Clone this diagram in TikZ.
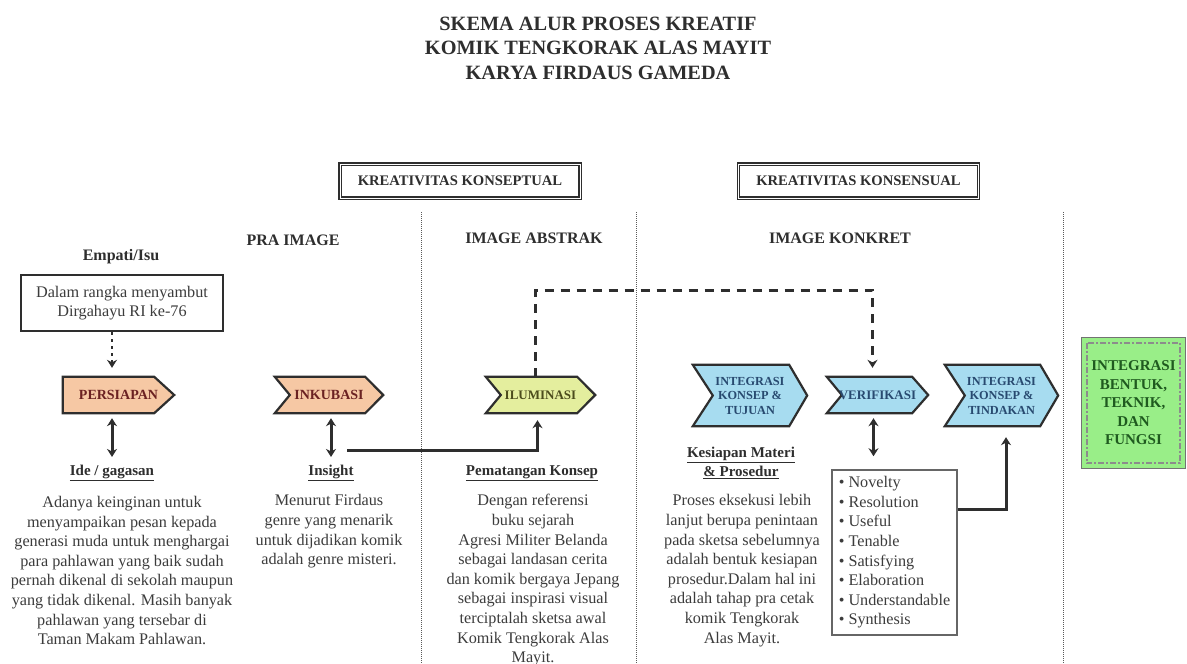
\documentclass[tikz,border=0pt]{standalone}
\usepackage{fontspec}
\setmainfont{Liberation Serif}
\usetikzlibrary{arrows.meta,backgrounds,calc}
\definecolor{peach}{HTML}{F6C8A4}
\definecolor{peachtxt}{HTML}{6B2222}
\definecolor{ilum}{HTML}{E4EE9E}
\definecolor{ilumtxt}{HTML}{4C4C1C}
\definecolor{sky}{HTML}{A7DCF0}
\definecolor{skytxt}{HTML}{284A70}
\definecolor{lgreen}{HTML}{99EE88}
\definecolor{gtxt}{HTML}{1F5A1F}
\definecolor{txt}{HTML}{3C3C3C}
\definecolor{ink}{HTML}{2E2E2E}
\newcommand\chevshape[4]{%
  \begin{pgfonlayer}{background}
  \filldraw[fill=#4, draw=ink, line width=2.2pt, line join=miter]
    (#1.north west) -- ([xshift=-#3pt]#1.north east) -- (#1.east)
    -- ([xshift=-#3pt]#1.south east) -- (#1.south west)
    -- ([xshift=#2pt]#1.west) -- cycle;
  \end{pgfonlayer}}
\begin{document}
\begin{tikzpicture}[x=1pt,y=-1pt,
  titlestyle/.style={font=\bfseries\fontsize{20.3}{24.5}\selectfont, align=center, text=ink, inner sep=0pt},
  kbox/.style={draw=ink, line width=1.1pt, double=white, double distance=1pt, minimum width=240pt, minimum height=34pt, inner sep=0pt, font=\bfseries\fontsize{14.6}{17}\selectfont, text=ink},
  head/.style={font=\bfseries\fontsize{16}{19}\selectfont, text=ink, inner sep=0pt},
  capstyle/.style={font=\bfseries\fontsize{15}{19}\selectfont, text=ink, inner sep=0pt, align=center},
  body/.style={font=\fontsize{16.2}{19.6}\selectfont, text=txt, align=center, inner sep=0pt},
  chev/.style={inner sep=0pt, minimum height=36pt, align=center, font=\bfseries\fontsize{14}{16}\selectfont},
  chevtall/.style={inner sep=0pt, minimum height=61pt, align=center, font=\bfseries\fontsize{12.3}{14.5}\selectfont, text=skytxt},
  dbl/.style={{Stealth[length=8pt,width=10pt]}-{Stealth[length=8pt,width=10pt]}, line width=3pt, draw=ink},
  conn/.style={-{Stealth[length=8pt,width=10pt]}, line width=3pt, draw=ink},
  dotarrow/.style={-{Stealth[length=8pt,width=10pt]}, line width=2.8pt, draw=ink, dash pattern=on 3pt off 4pt},
  dashconn/.style={-{Stealth[length=8pt,width=10pt]}, line width=3pt, draw=ink, dash pattern=on 9pt off 7pt},
  sep/.style={draw=black!65, line width=1pt, dash pattern=on 1pt off 1pt}]
\begin{pgfonlayer}{background}
\fill[white] (0,0) rectangle (1187,664);
\end{pgfonlayer}
\useasboundingbox (0,0) rectangle (1187,664);

% title
\node[titlestyle] (title) at (598,48) {SKEMA ALUR PROSES KREATIF\\KOMIK TENGKORAK ALAS MAYIT\\KARYA FIRDAUS GAMEDA};

% top boxes
\node[kbox] (kk1) at (460,181) {KREATIVITAS KONSEPTUAL};
\node[kbox] (kk2) at (858.5,181) {KREATIVITAS KONSENSUAL};

% separators
\draw[sep] (421,212) -- (421,664);
\draw[sep] (636,212) -- (636,664);
\draw[sep] (1063,212) -- (1063,664);

% headings
\node[head] (pra) at (293,240) {PRA IMAGE};
\node[head] (abs) at (534,238) {IMAGE ABSTRAK};
\node[head] (kon) at (840,238) {IMAGE KONKRET};
\node[head] (empati) at (121,257) {Empati/Isu};

\node[body, draw=ink, line width=2.8pt, minimum width=202pt, minimum height=56pt] (dalam) at (122,303) {Dalam rangka menyambut\\Dirgahayu RI ke-76};

% chevrons
\node[chev, minimum width=111pt, text=peachtxt] (persiapan) at (118.5,395) {PERSIAPAN};
\node[chev, minimum width=108pt, text=peachtxt] (inkubasi) at (329,395) {INKUBASI};
\node[chev, minimum width=109pt, text=ilumtxt, font=\bfseries\fontsize{13}{15}\selectfont] (iluminasi) at (540.5,395) {ILUMINASI};
\node[chevtall, minimum width=114pt] (tujuan) at (750,395.5) {INTEGRASI\\KONSEP \&\\TUJUAN};
\node[chev, minimum width=101pt, text=skytxt, font=\bfseries\fontsize{13}{15}\selectfont] (verifikasi) at (877.5,395) {VERIFIKASI};
\node[chevtall, minimum width=113pt] (tindakan) at (1001.5,395.5) {INTEGRASI\\KONSEP \&\\TINDAKAN};
\chevshape{persiapan}{0}{20}{peach}
\chevshape{inkubasi}{15}{18}{peach}
\chevshape{iluminasi}{15}{18}{ilum}
\chevshape{tujuan}{20}{18}{sky}
\chevshape{verifikasi}{15}{16}{sky}
\chevshape{tindakan}{20}{18}{sky}

% final green box
\node[inner sep=0pt, minimum width=103pt, minimum height=130pt, align=center, text=gtxt, font=\bfseries\fontsize{15}{18.5}\selectfont] (final) at (1133.5,403) {INTEGRASI\\BENTUK,\\TEKNIK,\\DAN\\FUNGSI};
\begin{pgfonlayer}{background}
\filldraw[fill=lgreen, draw=black!55, line width=1.2pt] (final.north west) rectangle (final.south east);
\draw[black!45, line width=1.6pt, dash pattern=on 6pt off 2pt on 2pt off 2pt] ([shift={(5,5)}]final.north west) rectangle ([shift={(-5,-5)}]final.south east);
\end{pgfonlayer}

% captions
\node[capstyle] (idecap) at (112,473) {\underline{Ide / gagasan}};
\node[capstyle] (inscap) at (331,473) {\underline{Insight}};
\node[capstyle] (pemcap) at (532,473) {\underline{Pematangan Konsep}};
\node[capstyle] (kescap) at (741,462.5) {\underline{Kesiapan Materi}\\\underline{\& Prosedur}};

% bodies
\node[body] (idebody) at (122,570.6) {Adanya keinginan untuk\\menyampaikan pesan kepada\\generasi muda untuk menghargai\\para pahlawan yang baik sudah\\pernah dikenal di sekolah maupun\\yang tidak dikenal. Masih banyak\\pahlawan yang tersebar di\\Taman Makam Pahlawan.};
\node[body] (insbody) at (329,531.4) {Menurut Firdaus\\genre yang menarik\\untuk dijadikan komik\\adalah genre misteri.};
\node[body] (pembody) at (533,580.4) {Dengan referensi\\buku sejarah\\Agresi Militer Belanda\\sebagai landasan cerita\\dan komik bergaya Jepang\\sebagai inspirasi visual\\terciptalah sketsa awal\\Komik Tengkorak Alas\\Mayit.};
\node[body] (kesbody) at (742,570.6) {Proses eksekusi lebih\\lanjut berupa penintaan\\pada sketsa sebelumnya\\adalah bentuk kesiapan\\prosedur.Dalam hal ini\\adalah tahap pra cetak\\komik Tengkorak\\Alas Mayit.};

\node[body, align=left, draw=black!60, line width=1.5pt, minimum width=125pt, minimum height=165pt] (novelty) at (894.5,552.5) {• Novelty\\• Resolution\\• Useful\\• Tenable\\• Satisfying\\• Elaboration\\• Understandable\\• Synthesis};

% connectors
\draw[dotarrow, shorten >=9pt] (dalam.south -| idecap) -- (persiapan.north -| idecap);
\draw[dbl, shorten <=5pt, shorten >=8pt] (persiapan.south -| idecap) -- (idecap.north);
\draw[dbl, shorten <=5pt, shorten >=8pt] (inkubasi.south -| inscap) -- (inscap.north);
\draw[dbl, shorten <=5pt, shorten >=13pt] ([xshift=-4pt]verifikasi.south) -- ([xshift=-4pt]verifikasi.south |- novelty.north);
\coordinate (insstart) at (347,450);
\draw[conn, shorten >=7pt] (insstart) -| ([xshift=-3pt]iluminasi.south);
\coordinate (dtop) at (535,290);
\draw[dashconn, shorten >=9pt] ([xshift=-5pt]iluminasi.north) -- ([xshift=-5pt]iluminasi.north |- dtop) -| ([xshift=-5pt]verifikasi.north);
\draw[conn, shorten >=11pt] ([yshift=43.5pt]novelty.east) -| ([xshift=4.5pt]tindakan.south);
\end{tikzpicture}
\end{document}
